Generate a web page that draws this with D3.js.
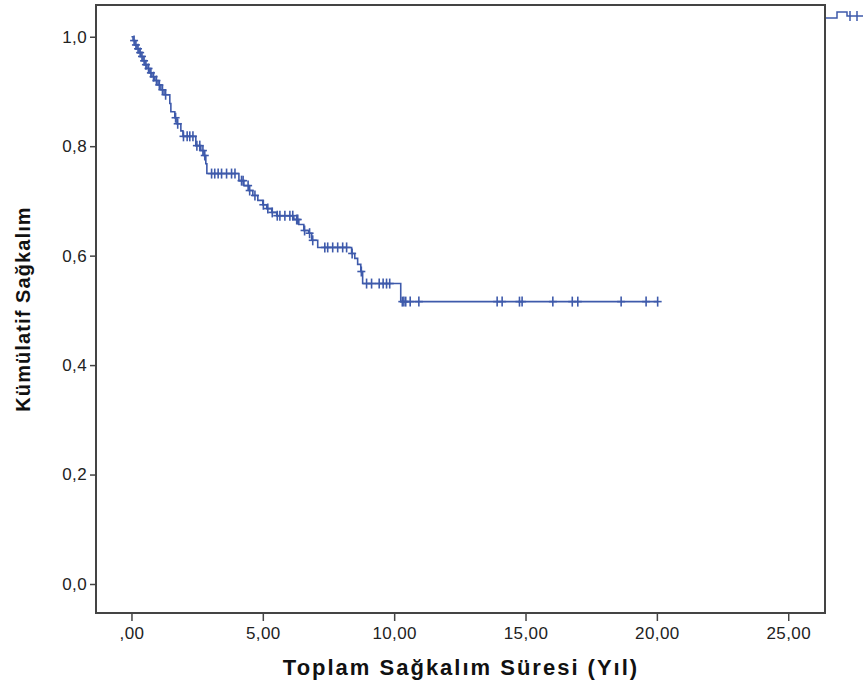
<!DOCTYPE html>
<html>
<head>
<meta charset="utf-8">
<script src="https://cdn.jsdelivr.net/npm/d3@7"></script>
<style>
  body { margin: 0; background: #fff; }
  svg { display: block; }
  .tick text { font-family: "Liberation Sans", Arial, sans-serif; font-size: 17px; letter-spacing: 0.4px; fill: #222; }
  .tick line { stroke: #444; stroke-width: 1.5; }
  .axis-title { font-family: "Liberation Sans", Arial, sans-serif; font-weight: bold; fill: #111; }
</style>
</head>
<body>
<svg class="km-svg"></svg>
<script>
var svgWidth = 863;
var svgHeight = 693;
var lineColor = "#3e5aab";

// Kaplan-Meier steps: time (years) where the curve drops, survival after the drop
var stepTimes = [0.06, 0.13, 0.21, 0.29, 0.36, 0.44, 0.51, 0.59, 0.70, 0.78, 0.89, 1.01, 1.12, 1.24,
  1.46, 1.50, 1.65, 1.73, 1.88, 1.96, 2.45, 2.64, 2.76, 2.83, 2.87,
  4.09, 4.28, 4.47, 4.62, 4.81, 5.00, 5.15, 5.34, 5.53,
  6.18, 6.37, 6.56, 6.75, 6.86, 7.09,
  8.38, 8.50, 8.61, 8.73, 8.80, 10.25];
var stepSurvival = [0.993, 0.985, 0.978, 0.971, 0.964, 0.956, 0.949, 0.942, 0.934, 0.927, 0.920, 0.912, 0.903, 0.894,
  0.878, 0.863, 0.852, 0.841, 0.828, 0.818, 0.801, 0.792, 0.783, 0.768, 0.750,
  0.737, 0.728, 0.719, 0.710, 0.701, 0.693, 0.686, 0.679, 0.673,
  0.666, 0.657, 0.646, 0.641, 0.628, 0.615,
  0.604, 0.595, 0.584, 0.571, 0.549, 0.516];

// censored observations (years)
var censorTimes = [0.10, 0.17, 0.25, 0.33, 0.40, 0.48, 0.55, 0.65, 0.74, 0.84, 0.95, 1.06, 1.18, 1.30,
  1.68, 1.76, 1.98, 2.12, 2.22, 2.34, 2.49, 2.60, 2.72, 2.79,
  3.05, 3.17, 3.30, 3.43, 3.62, 3.81, 3.94,
  4.19, 4.25, 4.44, 4.50, 4.70, 5.02, 5.19, 5.36, 5.55, 5.65, 5.84, 6.03,
  6.14, 6.29, 6.33, 6.59, 6.78, 6.90,
  7.36, 7.47, 7.66, 7.85, 8.04, 8.19, 8.40, 8.75,
  8.95, 9.14, 9.43, 9.58, 9.71, 9.83,
  10.31, 10.37, 10.44, 10.61, 10.94, 13.92, 14.11, 14.77, 14.87, 16.04, 16.78, 16.99, 18.64, 19.59, 20.03];

var xTicks = [0, 5, 10, 15, 20, 25];
var yTicks = [0, 0.2, 0.4, 0.6, 0.8, 1.0];

var frame = {left: 96, right: 825, top: 5, bottom: 613};

var svg = d3.select('.km-svg').attr('width', svgWidth).attr('height', svgHeight);

var x_scale = d3.scaleLinear().domain([-1.35, 26.4]).range([frame.left, frame.right]);
var y_scale = d3.scaleLinear().domain([-0.053, 1.058]).range([frame.bottom, frame.top]);

function commaFmt(digits){
  return function(d){
    var s = d.toFixed(digits).replace('.', ',');
    if(s.indexOf('0,') === 0 && digits == 2) s = s.substring(1);
    return s;
  };
}

var x_axis = d3.axisBottom(x_scale).tickValues(xTicks).tickSize(8).tickPadding(6).tickFormat(commaFmt(2));
var y_axis = d3.axisLeft(y_scale).tickValues(yTicks).tickSize(6).tickPadding(3).tickFormat(commaFmt(1));

svg.append('g').attr('class','x-axis').attr('transform','translate(0,' + frame.bottom + ')').call(x_axis)
  .select('.domain').remove();
svg.append('g').attr('class','y-axis').attr('transform','translate(' + frame.left + ',0)').call(y_axis)
  .select('.domain').remove();

// plot frame
svg.append('rect')
  .attr('x', frame.left).attr('y', frame.top)
  .attr('width', frame.right - frame.left).attr('height', frame.bottom - frame.top)
  .attr('fill', 'none').attr('stroke', '#444').attr('stroke-width', 2);

// build the step path
function survivalAt(t){
  var s = 1;
  for(var i = 0; i < stepTimes.length; i++){
    if(stepTimes[i] <= t) s = stepSurvival[i];
  }
  return s;
}

var pts = [[0, 1]];
for(var i = 0; i < stepTimes.length; i++){
  pts.push([stepTimes[i], pts[pts.length-1][1]]);
  pts.push([stepTimes[i], stepSurvival[i]]);
}
var lastT = d3.max(censorTimes);
pts.push([lastT, survivalAt(lastT)]);

var line = d3.line().x(function(d){ return x_scale(d[0]); }).y(function(d){ return y_scale(d[1]); });

svg.append('path').datum(pts)
  .attr('d', line)
  .attr('fill', 'none')
  .attr('stroke', lineColor)
  .attr('stroke-width', 1.6);

// censor marks
var marks = svg.selectAll('.censor').data(censorTimes).enter().append('g')
  .attr('class', 'censor')
  .attr('transform', function(d){
    return 'translate(' + x_scale(d) + ',' + y_scale(survivalAt(d)) + ')';
  });
marks.append('line').attr('x1', 0).attr('x2', 0).attr('y1', -5).attr('y2', 5)
  .attr('stroke', lineColor).attr('stroke-width', 1.6);
marks.append('line').attr('x1', -4).attr('x2', 4).attr('y1', 0).attr('y2', 0)
  .attr('stroke', lineColor).attr('stroke-width', 1.6);

// clipped legend fragment at the right edge
svg.append('path')
  .attr('d', 'M826,18H837V12H847V16H863')
  .attr('fill', 'none').attr('stroke', lineColor).attr('stroke-width', 1.5);
[850, 857].forEach(function(cx){
  svg.append('line').attr('x1', cx).attr('x2', cx).attr('y1', 11).attr('y2', 21)
    .attr('stroke', lineColor).attr('stroke-width', 1.5);
});

// axis titles
svg.append('text').attr('class','axis-title')
  .attr('x', 461).attr('y', 675)
  .attr('text-anchor', 'middle')
  .style('font-size', '22px')
  .style('letter-spacing', '2px')
  .text('Toplam Sağkalım Süresi (Yıl)');

svg.append('text').attr('class','axis-title')
  .attr('transform', 'translate(30,309) rotate(-90)')
  .attr('text-anchor', 'middle')
  .style('font-size', '20px')
  .style('letter-spacing', '1.1px')
  .text('Kümülatif Sağkalım');
</script>
</body>
</html>
